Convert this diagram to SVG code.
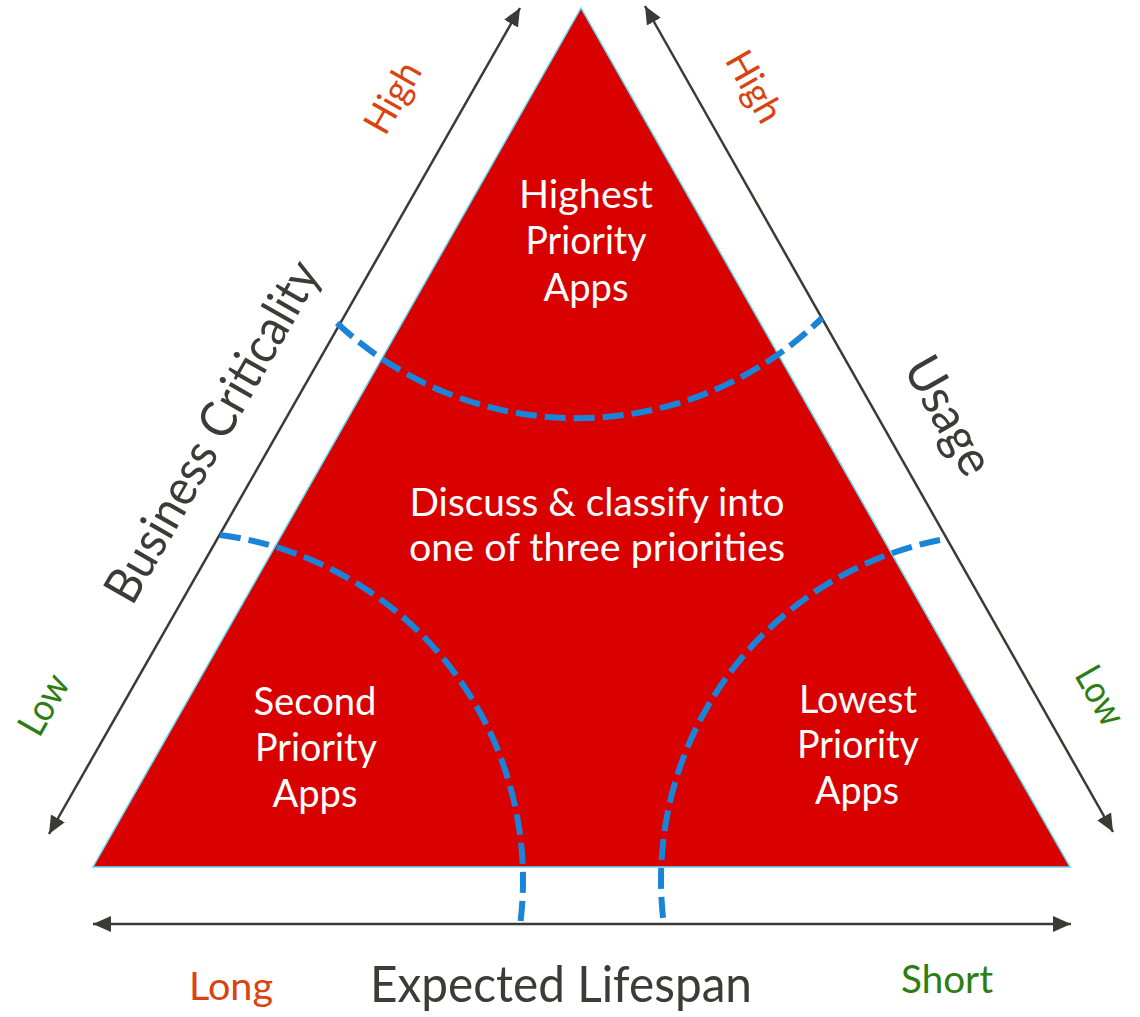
<svg xmlns="http://www.w3.org/2000/svg" width="1140" height="1017" viewBox="0 0 1140 1017">
<style>
.t{font-family:Lato,"Open Sans","Liberation Sans",sans-serif;font-weight:400;}
.w{fill:#ffffff;font-size:38px;text-anchor:middle;}
.ax{fill:#3c3c37;font-size:50px;text-anchor:middle;}
.hi{fill:#d9430f;font-size:38px;text-anchor:middle;}
.lo{fill:#2e7d12;font-size:38px;text-anchor:middle;}
.arr{stroke:#3b3b35;stroke-width:2.5;fill:none;marker-start:url(#ah);marker-end:url(#ah);}
.dash{stroke:#1a84d8;stroke-width:6;fill:none;stroke-dasharray:21 8;}
</style>
<defs>
<marker id="ah" markerUnits="userSpaceOnUse" markerWidth="20" markerHeight="18" viewBox="0 0 20 18" refX="18" refY="9" orient="auto-start-reverse">
<path d="M0,1 L18,9 L0,17 Z" fill="#3b3b35"/>
</marker>
</defs>
<rect width="1140" height="1017" fill="#ffffff"/>
<g id="triangle">
<polygon points="581,8 93,867 1070,867" fill="#d90000" stroke="#5fdcf5" stroke-width="1.5"/>
</g>
<g id="connectors">
<line class="arr" x1="49" y1="834" x2="520" y2="8"/>
<line class="arr" x1="645" y1="6" x2="1113" y2="832"/>
<line class="arr" x1="93" y1="924" x2="1071" y2="924"/>
<path class="dash" d="M337,323 A350,350 0 0 0 822,318"/>
<path class="dash" d="M220,535 A348,348 0 0 1 520.6,921"/>
<path class="dash" d="M940,540 A347,347 0 0 0 663.4,921"/>
</g>
<g id="highest" class="t">
<text class="w" x="586" y="208" textLength="134" lengthAdjust="spacingAndGlyphs">Highest</text>
<text class="w" x="586" y="254" textLength="121" lengthAdjust="spacingAndGlyphs">Priority</text>
<text class="w" x="586" y="301" textLength="85" lengthAdjust="spacingAndGlyphs">Apps</text>
</g>
<g id="discuss" class="t">
<text class="w" x="597" y="516" textLength="375" lengthAdjust="spacingAndGlyphs">Discuss &amp; classify into</text>
<text class="w" x="597" y="561" textLength="376" lengthAdjust="spacingAndGlyphs">one of three priorities</text>
</g>
<g id="second" class="t">
<text class="w" x="315" y="715" textLength="123" lengthAdjust="spacingAndGlyphs">Second</text>
<text class="w" x="316" y="761" textLength="122" lengthAdjust="spacingAndGlyphs">Priority</text>
<text class="w" x="315" y="807" textLength="85" lengthAdjust="spacingAndGlyphs">Apps</text>
</g>
<g id="lowest" class="t">
<text class="w" x="858" y="713" textLength="118" lengthAdjust="spacingAndGlyphs">Lowest</text>
<text class="w" x="858" y="758" textLength="122" lengthAdjust="spacingAndGlyphs">Priority</text>
<text class="w" x="857" y="804" textLength="84" lengthAdjust="spacingAndGlyphs">Apps</text>
</g>
<g id="business-criticality" class="t">
<text class="ax" transform="translate(227,440) rotate(-60.4)" x="0" y="0" textLength="384" lengthAdjust="spacingAndGlyphs">Business Criticality</text>
<text class="hi" transform="translate(404,104) rotate(-60.4)" x="0" y="0" textLength="76" lengthAdjust="spacingAndGlyphs">High</text>
<text class="lo" transform="translate(55,711) rotate(-60.4)" x="0" y="0" textLength="64" lengthAdjust="spacingAndGlyphs">Low</text>
</g>
<g id="usage" class="t">
<text class="ax" transform="translate(934,424) rotate(60.4)" x="0" y="0" textLength="128" lengthAdjust="spacingAndGlyphs">Usage</text>
<text class="hi" transform="translate(743,93) rotate(60.4)" x="0" y="0" textLength="76" lengthAdjust="spacingAndGlyphs">High</text>
<text class="lo" transform="translate(1089,702) rotate(60.4)" x="0" y="0" font-size="36" textLength="62" lengthAdjust="spacingAndGlyphs">Low</text>
</g>
<g id="expected-lifespan" class="t">
<text class="ax" x="561" y="1002" textLength="382" lengthAdjust="spacingAndGlyphs">Expected Lifespan</text>
<text class="hi" x="231" y="1000" font-size="42" textLength="84" lengthAdjust="spacingAndGlyphs">Long</text>
<text class="lo" x="947" y="993" font-size="42" textLength="92" lengthAdjust="spacingAndGlyphs">Short</text>
</g>
</svg>
